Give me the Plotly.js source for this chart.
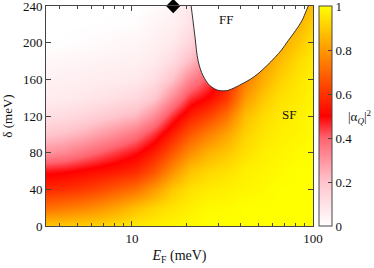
<!DOCTYPE html>
<html>
<head>
<meta charset="utf-8">
<script src="https://cdn.plot.ly/plotly-3.0.1.min.js"></script>
<style>html,body{margin:0;padding:0;background:#fff;}#chart{width:374px;height:268px;}</style>
</head>
<body>
<div id="chart"></div>
<script>
// Fermi energy grid (meV), log-spaced columns
const fermiEnergy = [3.35, 4.2, 5.3, 6.7, 8.4, 10.5, 13.2, 16.6, 21, 26.4, 33, 42, 53, 66, 83, 100];
// detuning grid (meV)
const detuning = [0, 20, 40, 60, 80, 100, 120, 140, 160, 180, 200, 220, 240];
// |alpha_Q|^2 values, one row per detuning value
const alphaSq = [
  [0.90,0.90,0.91,0.92,0.94,0.96,0.97,0.98,0.99,1.00,1.00,1.00,1.00,1.00,1.00,1.00],
  [0.72,0.74,0.76,0.79,0.83,0.88,0.92,0.95,0.97,0.99,0.99,1.00,1.00,1.00,1.00,1.00],
  [0.58,0.59,0.61,0.64,0.68,0.72,0.80,0.89,0.94,0.96,0.97,0.98,0.99,1.00,1.00,1.00],
  [0.48,0.49,0.51,0.53,0.55,0.58,0.66,0.78,0.88,0.92,0.94,0.97,0.98,0.99,1.00,1.00],
  [0.31,0.33,0.37,0.41,0.45,0.49,0.56,0.67,0.78,0.85,0.89,0.94,0.97,0.98,0.99,1.00],
  [0.19,0.21,0.24,0.28,0.32,0.37,0.45,0.56,0.67,0.75,0.82,0.91,0.95,0.97,0.98,0.99],
  [0.11,0.12,0.14,0.17,0.20,0.23,0.32,0.45,0.56,0.63,0.72,0.87,0.93,0.96,0.97,0.99],
  [0.065,0.07,0.08,0.095,0.11,0.13,0.19,0.32,0.45,0.51,0.60,0.80,0.89,0.94,0.96,0.98],
  [0.045,0.05,0.055,0.062,0.068,0.075,0.11,0.20,0.33,0.42,0.55,0.74,0.84,0.91,0.95,0.97],
  [0.03,0.032,0.037,0.042,0.046,0.05,0.07,0.12,0.22,0.33,0.55,0.74,0.80,0.87,0.93,0.96],
  [0.0,0.004,0.01,0.018,0.027,0.035,0.05,0.075,0.14,0.27,0.55,0.74,0.80,0.83,0.89,0.94],
  [0.0,0.0,0.0,0.002,0.006,0.01,0.035,0.05,0.10,0.24,0.55,0.74,0.80,0.83,0.85,0.91],
  [0.0,0.0,0.0,0.0,0.0,0.0,0.015,0.04,0.08,0.22,0.55,0.74,0.80,0.83,0.85,0.87]
];
// FF / SF phase boundary
const boundaryE = [21.2, 21.7, 22.3, 23.2, 24.7, 27.0, 29.9, 32.0, 34.0, 37.0, 40.5, 45.0, 49.6, 55.0, 61.7, 67.0, 72.8, 80.0, 86.9, 93.7, 95.0];
const boundaryD = [241, 225, 206, 180, 164, 153, 148, 147.5, 148, 151, 155, 160, 166, 174, 184, 192, 202, 213, 224, 239, 241];
// marked point
const markE = [16.9];
const markD = [240];
// colorbar ticks
const cbTicks = [0, 0.2, 0.4, 0.6, 0.8, 1];
const cbTickText = ['0', '0.2', '0.4', '0.6', '0.8', '1'];
// axis ticks
const yTicks = [0, 40, 80, 120, 160, 200, 240];
const xTicks = [10, 100];

const serif = "'Liberation Serif', 'Times New Roman', Times, serif";
const frame = '#444';

const traces = [
  {
    type: 'heatmap', x: fermiEnergy, y: detuning, z: alphaSq,
    zmin: 0, zmax: 1, zsmooth: 'best',
    colorscale: [[0, '#ffffff'], [0.2, '#ffc4cc'], [0.4, '#ff6470'], [0.5, '#ff0000'], [1, '#ffff00']],
    colorbar: {
      x: 1.0225, xanchor: 'left', xpad: 0, y: 0.5, yanchor: 'middle', ypad: 0,
      len: 1, lenmode: 'fraction', thickness: 13, thicknessmode: 'pixels',
      outlinewidth: 1, outlinecolor: frame,
      tickvals: cbTicks, ticktext: cbTickText, ticks: 'inside', ticklen: 4, tickcolor: frame,
      ticklabeloverflow: 'allow',
      tickfont: {family: serif, size: 13, color: '#111'}, title: {text: ''}
    },
    hoverinfo: 'skip'
  },
  {
    type: 'scatter', mode: 'lines', x: boundaryE, y: boundaryD,
    fill: 'toself', fillcolor: '#ffffff',
    line: {color: '#333', width: 1, shape: 'spline'}, showlegend: false, hoverinfo: 'skip'
  },
  {
    type: 'scatter', mode: 'markers', x: markE, y: markD, cliponaxis: false,
    marker: {symbol: 'diamond', size: 11, color: '#000'}, showlegend: false
  }
];

const layout = {
  width: 374, height: 268,
  margin: {l: 46, r: 61, t: 6, b: 42, pad: 0},
  paper_bgcolor: '#fff', plot_bgcolor: '#fff',
  font: {family: serif, size: 13, color: '#111'},
  showlegend: false,
  xaxis: {
    type: 'log', range: [Math.log10(3.35), 2],
    tickvals: xTicks, ticktext: ['10', '100'],
    ticks: 'inside', ticklen: 5, tickcolor: frame,
    minor: {ticks: 'inside', ticklen: 3, tickcolor: frame, dtick: 'D1'},
    showline: true, linecolor: frame, linewidth: 1, mirror: 'ticks',
    showgrid: false, zeroline: false, ticklabeloverflow: 'allow',
    tickfont: {family: serif, size: 13},
    title: {text: '<i>E</i><sub>F</sub> (meV)', font: {family: serif, size: 14}, standoff: 5}
  },
  yaxis: {
    range: [0, 240], tickvals: yTicks,
    ticks: 'inside', ticklen: 5, tickcolor: frame,
    showline: true, linecolor: frame, linewidth: 1, mirror: 'ticks',
    showgrid: false, zeroline: false, ticklabeloverflow: 'allow',
    tickfont: {family: serif, size: 13},
    title: {text: 'δ (meV)', font: {family: serif, size: 13}, standoff: 7}
  },
  annotations: [
    {x: Math.log10(33), y: 225, xref: 'x', yref: 'y', text: 'FF', showarrow: false, font: {family: serif, size: 13, color: '#111'}},
    {x: Math.log10(73.6), y: 122, xref: 'x', yref: 'y', text: 'SF', showarrow: false, font: {family: serif, size: 13, color: '#111'}},
    {x: 1.124, y: 0.495, xref: 'paper', yref: 'paper', xanchor: 'left', text: '|α<sub><i>Q</i></sub>|<sup>2</sup>', showarrow: false, font: {family: serif, size: 13, color: '#111'}}
  ]
};

Plotly.newPlot('chart', traces, layout, {staticPlot: true, displayModeBar: false});
</script>
</body>
</html>
